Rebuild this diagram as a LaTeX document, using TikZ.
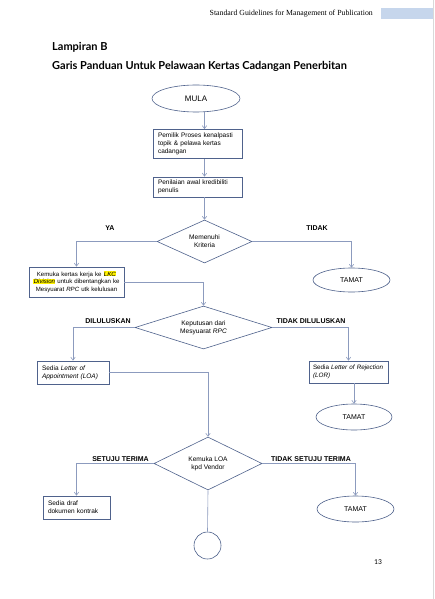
\documentclass[tikz,border=0pt]{standalone}
\usepackage{fontspec}
\setmainfont{Liberation Sans}
\newfontfamily\headfont{Liberation Serif}
\newfontfamily\titlefont{Lato}
\newfontfamily\numfont{Carlito}
\usetikzlibrary{arrows,arrows.meta,shapes.geometric}
\definecolor{boxline}{RGB}{79,98,140}
\definecolor{arrline}{RGB}{140,155,190}
\definecolor{headblue}{RGB}{198,214,236}
\newcommand{\hilite}[1]{{\setlength{\fboxsep}{0.3pt}\colorbox{yellow}{\textit{#1}}}}

\tikzset{
  procbox/.style={rectangle,draw=boxline,line width=0.8pt,inner xsep=5pt,inner ysep=1pt,
    align=left,font=\fontsize{6.5}{8.2}\selectfont},
  endpt/.style={ellipse,draw=boxline,line width=0.6pt,inner sep=0pt,font=\fontsize{7}{8}\selectfont},
  decide/.style={diamond,draw=boxline,line width=0.6pt,inner sep=0pt,aspect=2.5,
    align=center,font=\fontsize{6.6}{8.2}\selectfont},
  branch/.style={inner sep=0pt,font=\bfseries\fontsize{7}{8}\selectfont},
  flow/.style={draw=arrline,line width=0.6pt,-{Straight Barb[length=3pt,width=4.5pt]}},
}

\begin{document}
\begin{tikzpicture}[x=1pt,y=-1pt]
\path [use as bounding box,fill=white] (0,0) rectangle (434,599);
\fill [headblue] (381,8) rectangle (434,19);
\draw [black!15] (433,0) -- (433,599);
\node (runhead) at (373,14) [anchor=east,inner sep=0pt,font=\headfont\fontsize{7.8}{8}\selectfont] {Standard Guidelines for Management of Publication};
\node (annex) at (52,47) [anchor=west,inner sep=0pt,font=\titlefont\bfseries\fontsize{11}{13}\selectfont] {Lampiran B};
\node (title) at (52,66) [anchor=west,inner sep=0pt,font=\titlefont\bfseries\fontsize{11}{13}\selectfont] {Garis Panduan Untuk Pelawaan Kertas Cadangan Penerbitan};
% main column
\node (mula) at (196,98.5) [endpt,minimum width=88,minimum height=27,font=\fontsize{8}{9}\selectfont] {MULA};
\node (pemilik) at (197.5,144) [procbox,text width=79,minimum height=29] {Pemilik Proses kenalpasti\\topik \& pelawa kertas\\cadangan};
\node (nilai) at (197.5,187) [procbox,text width=79,minimum height=20] {Penilaian awal kredibiliti\\penulis};
\node (kriteria) at (204.5,241.5) [decide,minimum width=95,minimum height=43] {Memenuhi\\Kriteria};
\node (kemuka) at (76.5,282) [procbox,align=center,inner xsep=2pt,text width=91,minimum height=30,font=\fontsize{6.1}{7.6}\selectfont] {Kemuka kertas kerja ke \hilite{LKC}\\\hilite{Division} untuk dibentangkan ke\\Mesyuarat \textit{RPC} utk kelulusan};
\node (tamat1) at (351.5,280) [endpt,minimum width=77,minimum height=24] {TAMAT};
\node (rpc) at (203.5,327.5) [decide,minimum width=137,minimum height=43] {Keputusan dari\\Mesyuarat \textit{RPC}};
\node (loa) at (73,372.5) [procbox,text width=62,minimum height=23] {Sedia \textit{Letter of}\\\textit{Appointment (LOA)}};
\node (lor) at (348.5,372) [procbox,inner xsep=4pt,text width=71,minimum height=22,font=\fontsize{6.3}{8.2}\selectfont] {Sedia \textit{Letter of Rejection}\\\textit{(LOR)}};
\node (tamat2) at (354,417) [endpt,minimum width=76,minimum height=26] {TAMAT};
\node (vendor) at (208,463.5) [decide,minimum width=108,minimum height=53] {Kemuka LOA\\kpd Vendor};
\node (draf) at (76.5,507.5) [procbox,text width=57,minimum height=23] {Sedia draf\\dokumen kontrak};
\node (tamat3) at (355.5,509) [endpt,minimum width=77,minimum height=26] {TAMAT};
\node (sambung) at (207.5,545.5) [circle,draw=boxline,line width=0.6pt,minimum size=27] {};
% branch labels
\node (ya) at (110,228) [branch] {YA};
\node (tidak) at (317,228) [branch] {TIDAK};
\node (lulus) at (108,321) [branch] {DILULUSKAN};
\node (taklulus) at (311,321) [branch] {TIDAK DILULUSKAN};
\node (setuju) at (120.5,459) [branch] {SETUJU TERIMA};
\node (taksetuju) at (311,459) [branch] {TIDAK SETUJU TERIMA};
\node (pageno) at (378,562) [inner sep=0pt,font=\numfont\fontsize{7.5}{9}\selectfont] {13};
% connectors
\draw [flow] (mula.south -| kriteria.north) -- (pemilik.north -| kriteria.north);
\draw [flow] (pemilik.south -| kriteria.north) -- (nilai.north -| kriteria.north);
\draw [flow] (nilai.south -| kriteria.north) -- (kriteria.north);
\draw [flow] (kriteria.west) -| (kemuka.north);
\draw [flow] (kriteria.east) -| (tamat1.north);
\draw [flow] (kemuka.east) -| (rpc.north);
\draw [flow] (rpc.west) -| (loa.north);
\draw [flow] (rpc.east) -| (lor.north);
\draw [flow] (lor.south -| tamat2.north) -- (tamat2.north);
\draw [flow] (loa.east) -| (vendor.north);
\draw [flow] (vendor.west) -| (draf.north);
\draw [flow] (vendor.east) -| (tamat3.north);
\draw [draw=arrline,line width=0.6pt] (vendor.south) -- (sambung.north);
\end{tikzpicture}
\end{document}
